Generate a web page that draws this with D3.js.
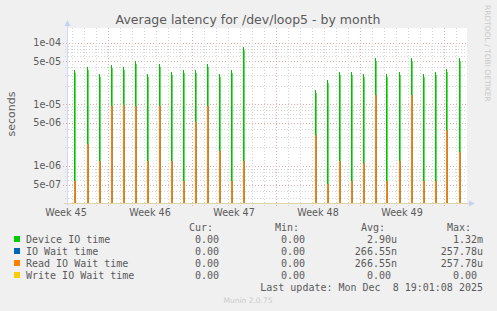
<html>
<head>
<meta charset="utf-8">
<script src="https://d3js.org/d3.v7.min.js"></script>
<style>
body { margin: 0; background: #f0f0f0; }
svg { display: block; font-family: 'DejaVu Sans', sans-serif; }
.mono { font-family: 'DejaVu Sans Mono', monospace; font-size: 10px; fill: #5a5a5a; }
</style>
</head>
<body>
<div id="chart"></div>
<script>

///////////////////////////////////////////
//////////////  data  /////////////////////
///////////////////////////////////////////

// one spike per day (daily job around 05:00)
var days = ["2025-11-07","2025-11-08","2025-11-09","2025-11-10","2025-11-11",
            "2025-11-12","2025-11-13","2025-11-14","2025-11-15","2025-11-16",
            "2025-11-17","2025-11-18","2025-11-19","2025-11-20","2025-11-21",
            "2025-11-27","2025-11-28","2025-11-29","2025-11-30","2025-12-01",
            "2025-12-02","2025-12-03","2025-12-04","2025-12-05","2025-12-06",
            "2025-12-07","2025-12-08","2025-12-09"];

// peak of each spike, seconds
var deviceIO = [3.6e-5, 4.1e-5, 3.1e-5, 4.3e-5, 4.1e-5, 5.0e-5, 3.1e-5, 4.5e-5,
                3.4e-5, 3.6e-5, 3.6e-5, 4.5e-5, 3.1e-5, 3.6e-5, 8.6e-5,
                1.7e-5, 2.5e-5, 3.3e-5, 3.3e-5, 3.1e-5, 5.6e-5, 3.1e-5, 3.3e-5,
                5.6e-5, 3.1e-5, 3.3e-5, 3.7e-5, 5.6e-5];
var readWait = [5.7e-7, 2.3e-6, 1.2e-6, 9.4e-6, 9.8e-6, 9.4e-6, 1.2e-6, 9.4e-6,
                1.2e-6, 5.7e-7, 5.2e-6, 9.4e-6, 1.75e-6, 5.7e-7, 1.2e-6,
                3.2e-6, 5.1e-7, 1.2e-6, 5.7e-7, 1.1e-6, 1.4e-5, 5.7e-7, 1.2e-6,
                1.4e-5, 5.7e-7, 5.7e-7, 3.9e-6, 1.7e-6];
var ioWait = readWait.slice();   // same as read wait
var writeWait = days.map(d => 0);

var yTicks = [1e-4, 5e-5, 1e-5, 5e-6, 1e-6, 5e-7];
var yTickLabels = ["1e-04", "5e-05", "1e-05", "5e-06", "1e-06", "5e-07"];

var weekStarts = ["2025-11-03","2025-11-10","2025-11-17","2025-11-24","2025-12-01"];
var weekLabels = ["Week 45", "Week 46", "Week 47", "Week 48", "Week 49"];

var legendNames = ["Device IO time", "IO Wait time", "Read IO Wait time", "Write IO Wait time"];
var legendColors = ["#00cc00", "#0066b3", "#ff8000", "#ffcc00"];
var curVals = ["0.00", "0.00", "0.00", "0.00"];
var minVals = ["0.00", "0.00", "0.00", "0.00"];
var avgVals = ["2.90u", "266.55n", "266.55n", "0.00"];
var maxVals = ["1.32m", "257.78u", "257.78u", "0.00"];

///////////////////////////////////////////
//////////////  setup  ////////////////////
///////////////////////////////////////////

var width = 497, height = 311;
var pLeft = 67, pRight = 467, pTop = 28, pBottom = 203;

var svg = d3.select("#chart").append("svg").attr("width", width).attr("height", height);
svg.append("rect").attr("width", width).attr("height", height).attr("fill", "#f0f0f0");

var parse = d3.utcParse("%Y-%m-%d");
var xScale = d3.scaleUtc()
  .domain([new Date(Date.UTC(2025, 10, 6, 14)), new Date(Date.UTC(2025, 11, 9, 22))])
  .range([pLeft, pRight]);
var yScale = d3.scaleLog().domain([2.51e-7, 1.731e-4]).range([pBottom, pTop]);

// plot area
svg.append("rect").attr("x", pLeft).attr("y", pTop)
  .attr("width", pRight - pLeft).attr("height", pBottom - pTop).attr("fill", "#ffffff");

// title
svg.append("text").attr("x", 248).attr("y", 24).attr("text-anchor", "middle")
  .style("font-size", "12.5px").attr("fill", "#5a5a5a")
  .text("Average latency for /dev/loop5 - by month");

svg.append("text").attr("transform", "translate(15,114) rotate(-90)")
  .attr("text-anchor", "middle").style("font-size", "11px").attr("fill", "#5a5a5a")
  .text("seconds");

svg.append("text").attr("transform", "translate(485,5) rotate(90)")
  .style("font-size", "7.5px").attr("fill", "#c8c8c8")
  .text("RRDTOOL / TOBI OETIKER");

///////////////////////////////////////////
//////////////  grid  /////////////////////
///////////////////////////////////////////

var minor = [];
for (var e = -7; e <= -4; e++) {
  for (var k = 1; k <= 9; k++) {
    var v = k * Math.pow(10, e);
    if (v >= yScale.domain()[0] && v <= yScale.domain()[1]) minor.push({v: v, major: (k == 1 || k == 5)});
  }
}
svg.selectAll(".hgrid").data(minor).enter().append("line")
  .attr("x1", d => d.major ? pLeft - 4 : pLeft - 2).attr("x2", pRight)
  .attr("y1", d => Math.round(yScale(d.v)) + 0.5).attr("y2", d => Math.round(yScale(d.v)) + 0.5)
  .attr("stroke", d => d.major ? "#e8a8a8" : "#d4d4d4")
  .attr("stroke-dasharray", "1,2");

var dayLines = d3.utcDay.range(xScale.domain()[0], xScale.domain()[1]);
svg.selectAll(".vgrid").data(dayLines).enter().append("line")
  .attr("x1", d => Math.round(xScale(d)) + 0.5).attr("x2", d => Math.round(xScale(d)) + 0.5)
  .attr("y1", pTop).attr("y2", pBottom + 3)
  .attr("stroke", d => d.getUTCDay() == 1 ? "#e8a8a8" : "#d4d4d4")
  .attr("stroke-dasharray", "1,2");

// y labels
svg.selectAll(".ylab").data(yTicks).enter().append("text")
  .attr("x", 61).attr("y", d => yScale(d) + 3.5)
  .attr("text-anchor", "end").style("font-size", "9.6px").attr("fill", "#5a5a5a")
  .text((d, i) => yTickLabels[i]);

// x labels (middle of each week)
svg.selectAll(".xlab").data(weekStarts).enter().append("text")
  .attr("x", d => xScale(d3.utcHour.offset(parse(d), 84)))
  .attr("y", 216).attr("text-anchor", "middle")
  .style("font-size", "9.6px").attr("fill", "#5a5a5a")
  .text((d, i) => weekLabels[i]);

///////////////////////////////////////////
//////////////  spikes  ///////////////////
///////////////////////////////////////////

var spikes = days.map((d, i) => ({
  t: d3.utcHour.offset(parse(d), 5), dev: deviceIO[i], io: ioWait[i], rd: readWait[i], wr: writeWait[i]
}));
var sx = d => Math.round(xScale(d.t));

var g = svg.append("g").attr("shape-rendering", "crispEdges");
// device io time
g.selectAll(".devlight").data(spikes).enter().append("rect")
  .attr("x", d => sx(d) + 1).attr("y", d => yScale(d.dev) + 3)
  .attr("width", 1).attr("height", d => pBottom - yScale(d.dev) - 3)
  .attr("fill", "#5fde5f");
g.selectAll(".dev").data(spikes).enter().append("rect")
  .attr("x", d => sx(d)).attr("y", d => yScale(d.dev))
  .attr("width", 1).attr("height", d => pBottom - yScale(d.dev))
  .attr("fill", "#00c000");
// io wait (hidden under read wait)
g.selectAll(".io").data(spikes).enter().append("rect")
  .attr("x", d => sx(d)).attr("y", d => yScale(d.io))
  .attr("width", 2).attr("height", d => pBottom - yScale(d.io))
  .attr("fill", legendColors[1]);
// read io wait
g.selectAll(".rdlight").data(spikes).enter().append("rect")
  .attr("x", d => sx(d) + 1).attr("y", d => yScale(d.rd))
  .attr("width", 1).attr("height", d => pBottom - yScale(d.rd))
  .attr("fill", "#b98a3a");
g.selectAll(".rd").data(spikes).enter().append("rect")
  .attr("x", d => sx(d)).attr("y", d => yScale(d.rd))
  .attr("width", 1).attr("height", d => pBottom - yScale(d.rd))
  .attr("fill", legendColors[2]);

///////////////////////////////////////////
//////////////  axes  /////////////////////
///////////////////////////////////////////

svg.append("line").attr("x1", pLeft - 3).attr("x2", pRight + 2)
  .attr("y1", pBottom + 0.5).attr("y2", pBottom + 0.5).attr("stroke", "#e2d4a4");
svg.append("line").attr("x1", pLeft + 0.5).attr("x2", pLeft + 0.5)
  .attr("y1", pBottom + 3).attr("y2", pTop - 4).attr("stroke", "#d0d8f4");
svg.append("path").attr("d", `M${pLeft - 2.5},${pTop - 2} L${pLeft + 0.5},${pTop - 8} L${pLeft + 3.5},${pTop - 2} Z`)
  .attr("fill", "#c8d2f4");
svg.append("path").attr("d", `M${pRight + 2},${pBottom - 2.5} L${pRight + 8},${pBottom + 0.5} L${pRight + 2},${pBottom + 3.5} Z`)
  .attr("fill", "#c8d2f4");

///////////////////////////////////////////
//////////////  legend  ///////////////////
///////////////////////////////////////////

var nb = "\u00a0";
var cols = [225, 311, 397, 483];
var heads = ["Cur:", "Min:", "Avg:", "Max:"];
svg.selectAll(".head").data(heads).enter().append("text").attr("class", "mono")
  .attr("x", (d, i) => cols[i]).attr("y", 231).attr("text-anchor", "end")
  .text(d => d + nb + nb);

var rows = legendNames.map((n, i) => ({name: n, color: legendColors[i],
  vals: [curVals[i], minVals[i], avgVals[i], maxVals[i]]}));
var row = svg.selectAll(".row").data(rows).enter().append("g")
  .attr("transform", (d, i) => "translate(0," + (243 + i * 12) + ")");
row.append("rect").attr("x", 14).attr("y", -7).attr("width", 6).attr("height", 6)
  .attr("fill", d => d.color);
row.append("text").attr("class", "mono").attr("x", 26).attr("y", 0).text(d => d.name);
row.selectAll(".val").data(d => d.vals).enter().append("text").attr("class", "mono")
  .attr("x", (d, i) => cols[i]).attr("y", 0).attr("text-anchor", "end")
  .text(d => /[a-z]$/.test(d) ? d : d + nb);

svg.append("text").attr("class", "mono").attr("x", 483).attr("y", 291).attr("text-anchor", "end")
  .text("Last update: Mon Dec" + nb + nb + "8 19:01:08 2025");

svg.append("text").attr("x", 248).attr("y", 303).attr("text-anchor", "middle")
  .style("font-size", "7.5px").attr("fill", "#cccccc")
  .text("Munin 2.0.75");

</script>
</body>
</html>
